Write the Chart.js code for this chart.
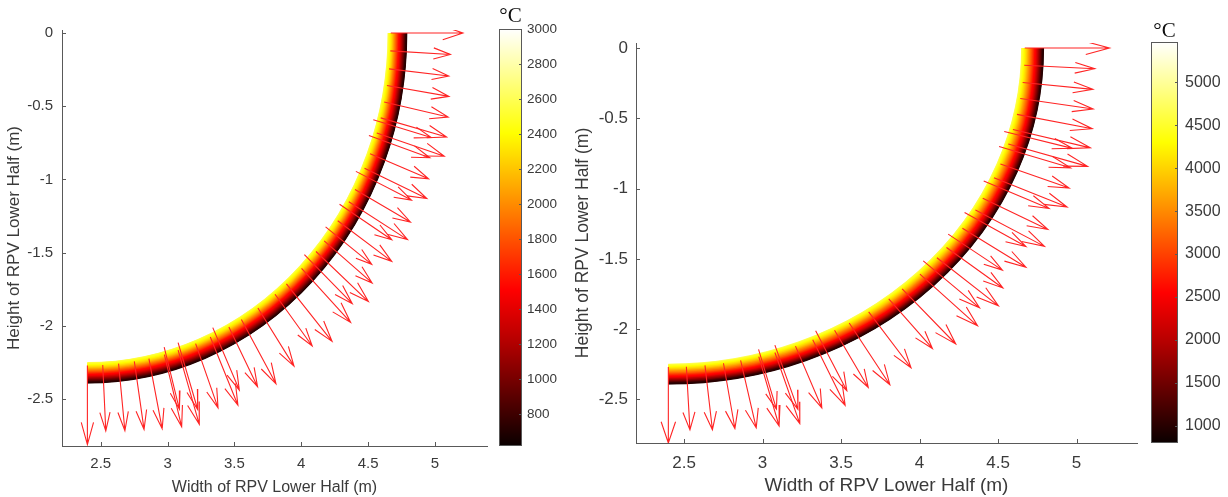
<!DOCTYPE html>
<html>
<head>
<meta charset="utf-8">
<script src="https://cdn.jsdelivr.net/npm/chart.js@4.4.1/dist/chart.umd.min.js"></script>
<style>
  body { margin: 0; background: #fff; }
  #wrap { position: relative; width: 1228px; height: 497px; overflow: hidden; }
  canvas { position: absolute; top: 0; }
</style>
</head>
<body>
<div id="wrap">
  <canvas id="leftPlot" width="492" height="497" style="left:0px"></canvas>
  <canvas id="leftBar" width="70" height="497" style="left:499px"></canvas>
  <canvas id="rightPlot" width="582" height="497" style="left:560px"></canvas>
  <canvas id="rightBar" width="77" height="497" style="left:1151px"></canvas>
</div>
<script>
// vessel wall (m)
const wallCenterX = 2.4;
const wallInnerR = 2.25;
const wallOuterR = 2.39;

// heat flux arrows: angle from the bottom of the head (deg) and length (m)
const arrowTailR = 2.27;
const arrowAngle = [90, 86.9, 83.8, 80.9, 78.0, 75.2, 72.5, 68.7, 66.0, 61.9, 59.5, 55.6, 51.3, 48.9, 44.9,
  41.0, 38.2, 34.2, 30.5, 27.8, 23.9, 20.9, 17.4, 14.7, 11.7, 8.9, 5.9, 2.9, 0];
const arrowLength = [0.54, 0.45, 0.45, 0.47, 0.49, 0.51, 0.53, 0.47, 0.51, 0.47, 0.51, 0.49, 0.46, 0.52, 0.52,
  0.52, 0.45, 0.48, 0.51, 0.46, 0.51, 0.47, 0.53, 0.51, 0.49, 0.47, 0.46, 0.45, 0.54];
// second set of arrows, starting a bit inside the wall
const pairTailR = 2.22;
const pairAngle = [74.5, 71.6, 64.8, 58.2, 53.4, 47.0, 25.0, 17.8, 15.0];
const pairLength = [0.45, 0.48, 0.46, 0.46, 0.43, 0.49, 0.47, 0.48, 0.44];

// wall temperature, inner surface -> outer surface (°C)
const leftWallTemp = [2600, 2250, 1750, 1250, 700];
const rightWallTemp = [4700, 4000, 3100, 2100, 950];
const leftRange = [620, 3000];
const rightRange = [800, 5470];

const xTicks = [2.5, 3, 3.5, 4, 4.5, 5];
const yTicks = [0, -0.5, -1, -1.5, -2, -2.5];
const leftBarTicks = [800, 1000, 1200, 1400, 1600, 1800, 2000, 2200, 2400, 2600, 2800, 3000];
const rightBarTicks = [1000, 1500, 2000, 2500, 3000, 3500, 4000, 4500, 5000];

const axisColor = '#595959';
const textColor = '#3a3a3a';
const sans = 'Liberation Sans, Arial, sans-serif';

function hot(f) {
  f = Math.max(0, Math.min(1, f));
  const c = v => Math.round(255 * Math.max(0, Math.min(1, v)));
  return `rgb(${c(0.04 + f / 0.375)}, ${c((f - 0.375) / 0.375)}, ${c((f - 0.75) / 0.25)})`;
}

function arrowPoints(angles, lengths, tailR) {
  const pts = [];
  angles.forEach((a, i) => {
    const t = a * Math.PI / 180;
    const dx = Math.sin(t), dy = -Math.cos(t);
    const L = lengths[i];
    const x0 = wallCenterX + tailR * dx, y0 = tailR * dy;
    const x1 = x0 + L * dx, y1 = y0 + L * dy;
    const bx = x1 - 0.28 * L * dx, by = y1 - 0.28 * L * dy;
    const h = 0.085 * L;
    pts.push({x: x0, y: y0}, {x: x1, y: y1}, {x: x1, y: null},
      {x: bx - h * dy, y: by + h * dx}, {x: x1, y: y1}, {x: bx + h * dy, y: by - h * dx}, {x: x1, y: null});
  });
  return pts;
}

// shaded wall band + inward tick marks
const wallPlugin = {
  id: 'wall',
  beforeDatasetsDraw(chart, args, opts) {
    const {ctx, chartArea, scales: {x, y}} = chart;
    const cx = x.getPixelForValue(wallCenterX), cy = y.getPixelForValue(0);
    const kx = x.getPixelForValue(wallCenterX + 1) - cx;
    const ky = y.getPixelForValue(-1) - cy;
    const temps = opts.temps, t0 = opts.range[0], t1 = opts.range[1];
    const n = 60;
    const thick = (wallOuterR - wallInnerR) * Math.max(kx, ky);
    ctx.save();
    ctx.beginPath();
    ctx.rect(chartArea.left, chartArea.top, chartArea.width, chartArea.height);
    ctx.clip();
    ctx.lineWidth = thick / n + 1;
    ctx.lineCap = 'butt';
    for (let k = 0; k < n; k++) {
      const s = (k + 0.5) / n;
      const r = wallInnerR + s * (wallOuterR - wallInnerR);
      const p = s * (temps.length - 1);
      const i = Math.min(Math.floor(p), temps.length - 2);
      const T = temps[i] + (temps[i + 1] - temps[i]) * (p - i);
      ctx.strokeStyle = hot((T - t0) / (t1 - t0));
      ctx.beginPath();
      ctx.ellipse(cx, cy, r * kx, r * ky, 0, 0, Math.PI / 2);
      ctx.stroke();
    }
    ctx.restore();
  },
  afterDraw(chart) {
    const {ctx, chartArea: {left, bottom}, scales: {x, y}} = chart;
    ctx.save();
    ctx.strokeStyle = axisColor;
    ctx.lineWidth = 1;
    ctx.beginPath();
    x.ticks.forEach(t => {
      const p = Math.round(x.getPixelForValue(t.value)) + 0.5;
      ctx.moveTo(p, bottom); ctx.lineTo(p, bottom - 4);
    });
    y.ticks.forEach(t => {
      const p = Math.round(y.getPixelForValue(t.value)) + 0.5;
      ctx.moveTo(left, p); ctx.lineTo(left + 4, p);
    });
    ctx.stroke();
    ctx.restore();
  }
};

function makePlot(id, c) {
  return new Chart(document.getElementById(id), {
    type: 'scatter',
    data: {
      datasets: [
        {data: arrowPoints(arrowAngle, arrowLength, arrowTailR)},
        {data: arrowPoints(pairAngle, pairLength, pairTailR)}
      ].map(d => Object.assign(d, {showLine: true, borderColor: '#ff2424', borderWidth: 1.1, pointRadius: 0, pointHoverRadius: 0, spanGaps: false}))
    },
    options: {
      responsive: false,
      animation: false,
      devicePixelRatio: 1,
      layout: {padding: {top: c.top, right: 5, left: 0, bottom: 0}},
      plugins: {
        legend: {display: false},
        tooltip: {enabled: false},
        wall: {temps: c.temps, range: c.range}
      },
      scales: {
        x: {
          type: 'linear', min: c.xMin, max: c.xMax,
          afterBuildTicks: s => { s.ticks = xTicks.map(v => ({value: v})); },
          afterFit: s => { s.height = c.xh; },
          grid: {display: false, drawTicks: false},
          border: {display: true, color: axisColor, width: 1},
          ticks: {color: textColor, font: {family: sans, size: c.tick}, padding: c.xPad, maxRotation: 0, callback: v => String(v)},
          title: {display: true, text: 'Width of RPV Lower Half (m)', color: textColor, font: {family: sans, size: c.xTitle}, padding: {top: 0, bottom: 0}}
        },
        y: {
          type: 'linear', min: c.yMin, max: c.yMax,
          afterBuildTicks: s => { s.ticks = yTicks.map(v => ({value: v})); },
          afterFit: s => { s.width = c.yw; },
          grid: {display: false, drawTicks: false},
          border: {display: true, color: axisColor, width: 1},
          ticks: {color: textColor, font: {family: sans, size: c.tick}, padding: c.yPad, callback: v => String(v)},
          title: {display: true, text: 'Height of RPV Lower Half (m)', color: textColor, font: {family: sans, size: c.yTitle}, padding: {top: c.yTitlePad, bottom: 0}}
        }
      }
    },
    plugins: [wallPlugin]
  });
}

// colorbar frame, ticks and unit label
const colorbarPlugin = {
  id: 'colorbar',
  afterDraw(chart, args, opts) {
    const {ctx, chartArea: {left, right, top, bottom}, scales: {y}} = chart;
    ctx.save();
    ctx.strokeStyle = axisColor;
    ctx.lineWidth = 1;
    ctx.strokeRect(left + 0.5, top + 0.5, right - left - 1, bottom - top - 1);
    ctx.beginPath();
    y.ticks.forEach(t => {
      const p = Math.round(y.getPixelForValue(t.value)) + 0.5;
      ctx.moveTo(right, p); ctx.lineTo(right - 3, p);
    });
    ctx.stroke();
    ctx.fillStyle = '#111';
    ctx.font = '21px "Liberation Serif", "Times New Roman", serif';
    ctx.textAlign = 'center';
    ctx.textBaseline = 'middle';
    ctx.fillText('°C', (left + right) / 2, top - opts.gap);
    ctx.restore();
  }
};

function makeBar(id, range, ticks, c) {
  return new Chart(document.getElementById(id), {
    type: 'bar',
    data: {
      labels: [''],
      datasets: [{
        data: [range],
        borderWidth: 0,
        barPercentage: 1,
        categoryPercentage: 1,
        backgroundColor: ctx => {
          const area = ctx.chart.chartArea;
          if (!area) return '#000';
          const g = ctx.chart.ctx.createLinearGradient(0, area.bottom, 0, area.top);
          [0, 0.125, 0.25, 0.375, 0.5, 0.625, 0.75, 0.875, 1].forEach(f => g.addColorStop(f, hot(f)));
          return g;
        }
      }]
    },
    options: {
      responsive: false,
      animation: false,
      devicePixelRatio: 1,
      layout: {padding: {top: c.top, bottom: c.bottom, left: 0, right: 0}},
      plugins: {legend: {display: false}, tooltip: {enabled: false}, colorbar: {gap: c.gap}},
      scales: {
        x: {display: false},
        y: {
          position: 'right', min: range[0], max: range[1],
          afterBuildTicks: s => { s.ticks = ticks.map(v => ({value: v})); },
          afterFit: s => { s.width = c.yw; },
          grid: {display: false, drawTicks: false},
          border: {display: false},
          ticks: {color: textColor, font: {family: sans, size: c.tick}, padding: c.pad, callback: v => String(v)}
        }
      }
    },
    plugins: [colorbarPlugin]
  });
}

makePlot('leftPlot', {
  top: 30, xh: 51, yw: 62, xMin: 2.21, xMax: 5.39, yMin: -2.82, yMax: 0.02,
  tick: 15, xTitle: 16, yTitle: 17, xPad: 9, yPad: 9, yTitlePad: 4,
  temps: leftWallTemp, range: leftRange
});
makePlot('rightPlot', {
  top: 43, xh: 54, yw: 76, xMin: 2.194, xMax: 5.385, yMin: -2.81, yMax: 0.036,
  tick: 17, xTitle: 19, yTitle: 17.5, xPad: 10, yPad: 8, yTitlePad: 12.5,
  temps: rightWallTemp, range: rightRange
});
makeBar('leftBar', leftRange, leftBarTicks, {top: 29, bottom: 51, yw: 47, tick: 13.5, pad: 5, gap: 13});
makeBar('rightBar', rightRange, rightBarTicks, {top: 42, bottom: 54, yw: 50, tick: 16, pad: 7, gap: 11});
</script>
</body>
</html>
